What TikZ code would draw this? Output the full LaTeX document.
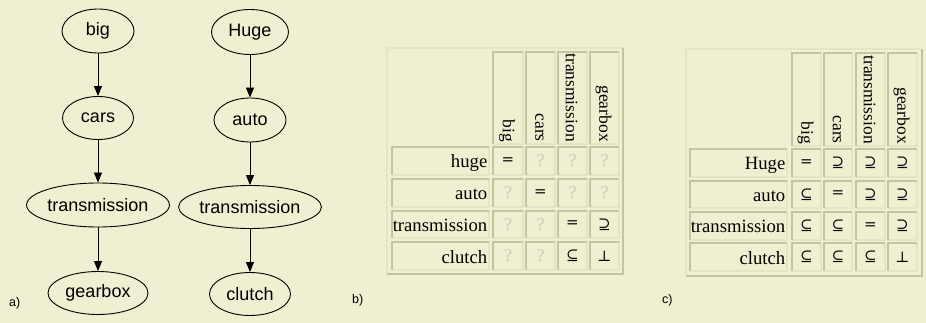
\documentclass[tikz,border=0pt]{standalone}
\usepackage{fontspec}
\setmainfont{Liberation Serif}
\setsansfont{Liberation Sans}
\newfontfamily\symfont{DejaVu Serif}
\usetikzlibrary{shapes.geometric,arrows.meta}
\definecolor{bgc}{RGB}{239,239,209}
\definecolor{dkc}{RGB}{196,196,160}
\definecolor{ltc}{RGB}{226,230,196}
\definecolor{qc}{RGB}{200,200,186}
\newcommand{\qq}{{\color{qc}\fontsize{18}{18}\selectfont ?}}
\newcommand{\eqq}{{\symfont =}}
\newcommand{\spq}{{\symfont ⊇}}
\newcommand{\sbq}{{\symfont ⊆}}
\newcommand{\ppq}{{\symfont ⊥}}
\newcommand{\tcell}[6]{%
  \node[cellbox, minimum width={(#4)-(#2)}, minimum height={(#5)-(#3)}] (#1) at ({((#2)+(#4))/2},{((#3)+(#5))/2}) {#6};
  \draw[celllt] (#1.north east) |- (#1.south west);
  \draw[celldk] (#1.south west) |- (#1.north east);
}
\begin{document}
\begin{tikzpicture}[x=1pt,y=-1pt,
  gnode/.style={draw, ellipse, line width=0.9pt, inner sep=0pt, font=\sffamily\fontsize{18}{18}\selectfont},
  garrow/.style={line width=0.9pt, -{Triangle[length=10pt,width=8pt]}},
  cellbox/.style={inner sep=0pt, outer sep=0pt, font=\fontsize{15}{15}\selectfont},
  celldk/.style={dkc, line width=1.5pt},
  celllt/.style={ltc, line width=1.5pt},
  rowlab/.style={anchor=base east, inner sep=0pt, font=\fontsize{18.7}{19}\selectfont},
  hdr/.style={rotate=-90, anchor=east, inner sep=0pt, font=\fontsize{17.5}{18}\selectfont},
  plab/.style={anchor=base west, inner sep=0pt, font=\sffamily\fontsize{12.5}{13}\selectfont},
  frdk/.style={dkc, line width=1.8pt},
  frlt/.style={ltc, line width=1.8pt}]
\fill[bgc] (0,0) rectangle (926,323);
\useasboundingbox (0,0) rectangle (926,323);

% ---- a) graphs
\node[gnode, minimum width=72, minimum height=44] (big) at (98,31) {big};
\node[gnode, minimum width=71, minimum height=43] (cars) at (98,118) {cars};
\node[gnode, minimum width=138, minimum height=44] (trl) at (98,205) {transmission};
\node[gnode, minimum width=100, minimum height=43] (gear) at (98,293) {gearbox};
\node[gnode, minimum width=77, minimum height=45] (huge) at (250,32) {Huge};
\node[gnode, minimum width=72, minimum height=44] (auto) at (250,120) {auto};
\node[gnode, minimum width=137, minimum height=43] (trr) at (250,207) {transmission};
\node[gnode, minimum width=81, minimum height=43] (clutch) at (250,294) {clutch};
\draw[garrow] (big) -- (cars);
\draw[garrow] (cars) -- (trl);
\draw[garrow] (trl) -- (gear);
\draw[garrow] (huge) -- (auto);
\draw[garrow] (auto) -- (trr);
\draw[garrow] (trr) -- (clutch);
\node[plab] (la) at (9,306) {a)};

% ---- b) table
\coordinate (bnw) at (387,48);
\coordinate (bse) at (623,274);
\draw[frlt] (bse -| bnw) |- (bnw -| bse);
\draw[frdk] (bnw -| bse) |- (bse -| bnw);
\foreach \j/\xa/\xb/\h in {1/493/523/big, 2/526/555/cars, 3/558/587/transmission, 4/590/619/gearbox}{
  \tcell{b-h\j}{\xa}{52}{\xb}{144}{}
  \node[hdr] (b-ht\j) at ({(\xa+\xb)/2-1},142) {\h};
}
\foreach \i/\ya/\yb/\lab/\ca/\cb/\cc/\cd in {1/147/175/huge/\eqq/\qq/\qq/\qq, 2/179/207/auto/\qq/\eqq/\qq/\qq, 3/211/238/transmission/\qq/\qq/\eqq/\spq, 4/242/270/clutch/\qq/\qq/\sbq/\ppq}{
  \tcell{b-l\i}{392}{\ya}{489}{\yb}{}
  \node[rowlab] (b-t\i) at (487.5,\yb-7) {\lab};
  \tcell{b-\i-1}{493}{\ya}{523}{\yb}{\ca}
  \tcell{b-\i-2}{526}{\ya}{555}{\yb}{\cb}
  \tcell{b-\i-3}{558}{\ya}{587}{\yb}{\cc}
  \tcell{b-\i-4}{590}{\ya}{619}{\yb}{\cd}
}
\node[plab] (lb) at (352,303) {b)};

% ---- c) table
\coordinate (cnw) at (686,49);
\coordinate (cse) at (922,276);
\draw[frlt] (cse -| cnw) |- (cnw -| cse);
\draw[frdk] (cnw -| cse) |- (cse -| cnw);
\foreach \j/\xa/\xb/\h in {1/792/821/big, 2/824/852/cars, 3/856/885/transmission, 4/888/917/gearbox}{
  \tcell{c-h\j}{\xa}{53}{\xb}{146}{}
  \node[hdr] (c-ht\j) at ({(\xa+\xb)/2-1},144) {\h};
}
\foreach \i/\ya/\yb/\lab/\ca/\cb/\cc/\cd in {1/149/177/Huge/\eqq/\spq/\spq/\spq, 2/181/208/auto/\sbq/\eqq/\spq/\spq, 3/212/240/transmission/\sbq/\sbq/\eqq/\spq, 4/243/271/clutch/\sbq/\sbq/\sbq/\ppq}{
  \tcell{c-l\i}{690}{\ya}{787}{\yb}{}
  \node[rowlab] (c-t\i) at (785.5,\yb-7) {\lab};
  \tcell{c-\i-1}{792}{\ya}{821}{\yb}{\ca}
  \tcell{c-\i-2}{824}{\ya}{852}{\yb}{\cb}
  \tcell{c-\i-3}{856}{\ya}{885}{\yb}{\cc}
  \tcell{c-\i-4}{888}{\ya}{917}{\yb}{\cd}
}
\node[plab] (lc) at (662,303) {c)};
\end{tikzpicture}
\end{document}
